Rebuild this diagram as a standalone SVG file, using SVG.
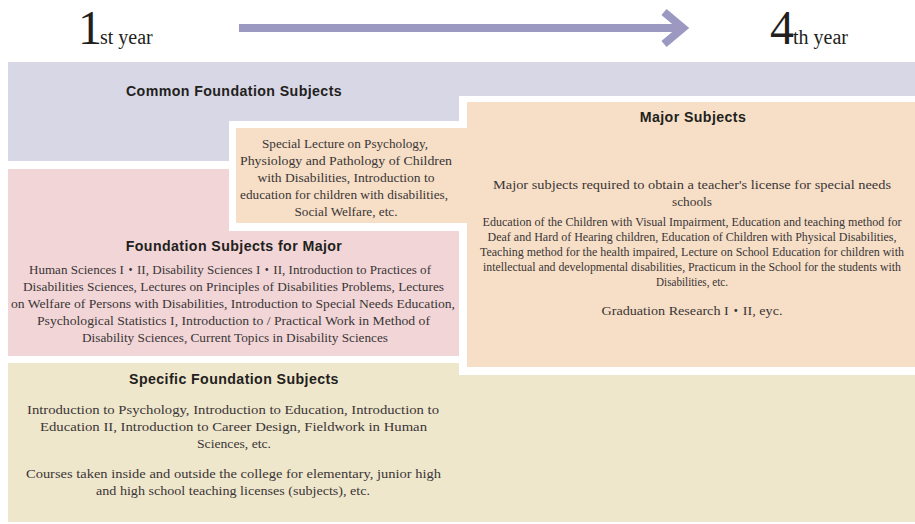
<svg xmlns="http://www.w3.org/2000/svg" width="915" height="524" viewBox="0 0 915 524">
  <style>
    .head { font-family: "Liberation Sans", Arial, sans-serif; font-weight: bold; font-size: 14.2px; letter-spacing: 0.4px; fill: #231f20; text-anchor: middle; }
    .body { font-family: "Liberation Serif", "Noto Sans CJK JP", serif; font-size: 13.5px; fill: #3a3536; text-anchor: middle; }
    .small { font-family: "Liberation Serif", "Noto Sans CJK JP", serif; font-size: 12px; fill: #3a3536; text-anchor: middle; }
    .year { font-family: "Liberation Serif", serif; fill: #231f20; }
  </style>
  <rect width="915" height="524" fill="#ffffff"/>

  <!-- timeline: year labels and progress arrow -->
  <g id="timeline">
    <text class="year" x="78" y="44" font-size="48">1<tspan font-size="20" dx="-2">st year</tspan></text>
    <text class="year" x="770" y="44" font-size="48">4<tspan font-size="20" dx="-1">th year</tspan></text>
    <g id="connectors">
      <rect x="239" y="24" width="440" height="8" fill="#9b99c1"/>
      <polyline points="664,12 683,28 664,44" fill="none" stroke="#9b99c1" stroke-width="8" stroke-linejoin="miter"/>
    </g>
  </g>

  <!-- Common Foundation Subjects -->
  <g id="common-foundation">
    <path d="M8,62 H915 V96 H459 V121 H229 V161 H8 Z" fill="#d8d7e6"/>
    <text class="head" x="234" y="96">Common Foundation Subjects</text>
  </g>

  <!-- Major Subjects -->
  <g id="major-subjects">
    <rect x="467" y="102" width="448" height="265" fill="#f6dfc6"/>
    <text class="head" x="693" y="122">Major Subjects</text>
    <text class="body" x="692" y="189" font-size="14" textLength="398" lengthAdjust="spacingAndGlyphs">Major subjects required to obtain a teacher's license for special needs</text>
    <text class="body" x="692" y="206" font-size="14" textLength="40" lengthAdjust="spacingAndGlyphs">schools</text>
    <text class="small" x="692" y="226" textLength="419" lengthAdjust="spacingAndGlyphs">Education of the Children with Visual Impairment, Education and teaching method for</text>
    <text class="small" x="692" y="241" textLength="409" lengthAdjust="spacingAndGlyphs">Deaf and Hard of Hearing children, Education of Children with Physical Disabilities,</text>
    <text class="small" x="692" y="256" textLength="424" lengthAdjust="spacingAndGlyphs">Teaching method for the health impaired, Lecture on School Education for children with</text>
    <text class="small" x="692" y="271" textLength="418" lengthAdjust="spacingAndGlyphs">intellectual and developmental disabilities, Practicum in the School for the students with</text>
    <text class="small" x="692" y="286" textLength="72" lengthAdjust="spacingAndGlyphs">Disabilities, etc.</text>
    <text class="body" x="692" y="315" font-size="14" textLength="181" lengthAdjust="spacingAndGlyphs">Graduation Research I・II, eyc.</text>
  </g>

  <!-- Special lectures taken alongside the common subjects -->
  <g id="special-lectures">
    <rect x="236" y="128" width="232" height="95" fill="#f6dfc6"/>
    <text class="body" x="345" y="148" textLength="166" lengthAdjust="spacingAndGlyphs">Special Lecture on Psychology,</text>
    <text class="body" x="346" y="165" textLength="212" lengthAdjust="spacingAndGlyphs">Physiology and Pathology of Children</text>
    <text class="body" x="346" y="182" textLength="177" lengthAdjust="spacingAndGlyphs">with Disabilities, Introduction to</text>
    <text class="body" x="344" y="199" textLength="208" lengthAdjust="spacingAndGlyphs">education for children with disabilities,</text>
    <text class="body" x="346" y="216" textLength="103" lengthAdjust="spacingAndGlyphs">Social Welfare, etc.</text>
  </g>

  <!-- Foundation Subjects for Major -->
  <g id="foundation-major">
    <path d="M8,169 H229 V231 H459 V356 H8 Z" fill="#f2d6d7"/>
    <text class="head" x="234" y="251">Foundation Subjects for Major</text>
    <text class="body" x="230" y="274" font-size="13" textLength="402" lengthAdjust="spacingAndGlyphs">Human Sciences I・II, Disability Sciences I・II, Introduction to Practices of</text>
    <text class="body" x="233.5" y="291" font-size="13" textLength="421" lengthAdjust="spacingAndGlyphs">Disabilities Sciences, Lectures on Principles of Disabilities Problems, Lectures</text>
    <text class="body" x="233" y="308" font-size="13" textLength="444" lengthAdjust="spacingAndGlyphs">on Welfare of Persons with Disabilities, Introduction to Special Needs Education,</text>
    <text class="body" x="233.5" y="325" font-size="13" textLength="393" lengthAdjust="spacingAndGlyphs">Psychological Statistics I, Introduction to / Practical Work in Method of</text>
    <text class="body" x="235" y="342" font-size="13" textLength="306" lengthAdjust="spacingAndGlyphs">Disability Sciences, Current Topics in Disability Sciences</text>
  </g>

  <!-- Specific Foundation Subjects -->
  <g id="specific-foundation">
    <path d="M8,363 H459 V375 H915 V522 H8 Z" fill="#efe7cc"/>
    <text class="head" x="234" y="384">Specific Foundation Subjects</text>
    <text class="body" x="233" y="414" font-size="14" textLength="412" lengthAdjust="spacingAndGlyphs">Introduction to Psychology, Introduction to Education, Introduction to</text>
    <text class="body" x="233.5" y="431" font-size="14" textLength="387" lengthAdjust="spacingAndGlyphs">Education II, Introduction to Career Design, Fieldwork in Human</text>
    <text class="body" x="234" y="448" font-size="14" textLength="74" lengthAdjust="spacingAndGlyphs">Sciences, etc.</text>
    <text class="body" x="233.5" y="478" font-size="14" textLength="415" lengthAdjust="spacingAndGlyphs">Courses taken inside and outside the college for elementary, junior high</text>
    <text class="body" x="233" y="495" font-size="14" textLength="274" lengthAdjust="spacingAndGlyphs">and high school teaching licenses (subjects), etc.</text>
  </g>
</svg>
